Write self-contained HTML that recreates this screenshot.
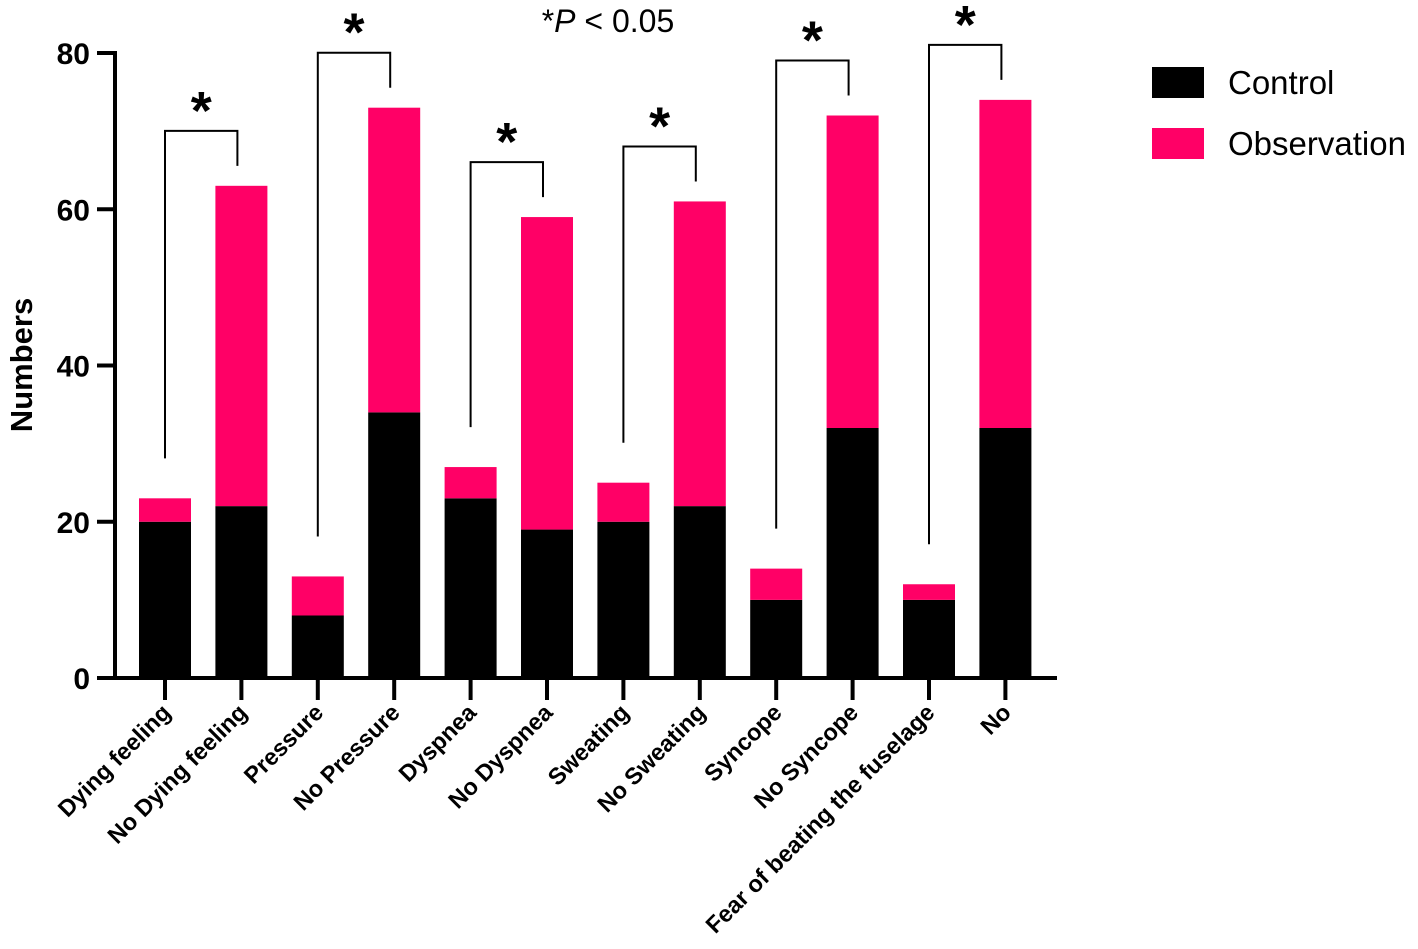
<!DOCTYPE html>
<html><head><meta charset="utf-8"><style>
body{margin:0;background:#fff}
svg{display:block;font-family:"Liberation Sans",Arial,sans-serif}
</style></head><body>
<svg id="chart" width="1418" height="949">
<g id="bars"></g>
<g id="axes"></g>
<g id="sig"></g>
<text x="608" y="32" font-size="32" text-anchor="middle">*<tspan font-style="italic">P</tspan> &lt; 0.05</text>
<text transform="translate(32,365) rotate(-90)" font-size="31" font-weight="bold" text-anchor="middle">Numbers</text>
<rect x="1152" y="67" width="52" height="31" fill="#000"/>
<text x="1228" y="94" font-size="33">Control</text>
<rect x="1152" y="128" width="52" height="31" fill="#ff0066"/>
<text x="1228" y="155" font-size="33">Observation</text>
</svg>
<script>
const categories=["Dying feeling","No Dying feeling","Pressure","No Pressure","Dyspnea","No Dyspnea","Sweating","No Sweating","Syncope","No Syncope","Fear of beating the fuselage","No"];
const control=[20,22,8,34,23,19,20,22,10,32,10,32];
const observation=[3,41,5,39,4,40,5,39,4,40,2,42];
const yTicks=[0,20,40,60,80];
const pairs=[[0,1],[2,3],[4,5],[6,7],[8,9],[10,11]];
const NS="http://www.w3.org/2000/svg";
const y0=678,y80=53,x0=115,xEnd=1057,step=76.4,first=165,bw=52;
const y=v=>y0-(v/80)*(y0-y80);
const xc=i=>first+i*step;
function mk(t,a,p){const e=document.createElementNS(NS,t);for(const k in a)e.setAttribute(k,a[k]);p.appendChild(e);return e;}
const bars=document.getElementById('bars'),axes=document.getElementById('axes'),sig=document.getElementById('sig');
categories.forEach((c,i)=>{
 const r1=mk('rect',{x:xc(i)-bw/2,y:y(control[i]),width:bw,height:y(0)-y(control[i]),fill:'#000'},bars);
 
 
 const tot=control[i]+observation[i];
 const r2=mk('rect',{x:xc(i)-bw/2,y:y(tot),width:bw,height:y(control[i])-y(tot),fill:'#ff0066'},bars);
 
 
 const tk=mk('line',{x1:xc(i),x2:xc(i),y1:y0,y2:y0+22,stroke:'#000','stroke-width':4},axes);
 
 
 const tx=mk('text',{transform:`translate(${xc(i)+7},${y0+36}) rotate(-45)`,'font-size':23.5,'font-weight':'bold','text-anchor':'end'},axes);
 tx.textContent=c;
 
 
});
const ya=mk('line',{x1:x0,x2:x0,y1:y80-2,y2:y0+2,stroke:'#000','stroke-width':4},axes);


const xa=mk('line',{x1:x0-2,x2:xEnd,y1:y0,y2:y0,stroke:'#000','stroke-width':4},axes);


yTicks.forEach(v=>{
 const l=mk('line',{x1:x0-18,x2:x0,y1:y(v),y2:y(v),stroke:'#000','stroke-width':4},axes);
 
 
 const t=mk('text',{x:x0-25,y:y(v)+11,'font-size':30,'font-weight':'bold','text-anchor':'end'},axes);
 t.textContent=v;
 
 
});
pairs.forEach(([a,b])=>{
 const ta=control[a]+observation[a],tb=control[b]+observation[b];
 const top=y(tb)-55;
 const xl=xc(a),xr=xc(b)-4;
 const p=mk('path',{d:`M${xl},${y(ta)-40} V${top} H${xr} V${y(tb)-20}`,fill:'none',stroke:'#000','stroke-width':2},sig);
 
 
 const s=mk('text',{x:(xl+xr)/2,y:top-2,'font-size':54,'font-weight':'bold','text-anchor':'middle'},sig);
 s.textContent='*';
 
 
});
</script>
</body></html>
